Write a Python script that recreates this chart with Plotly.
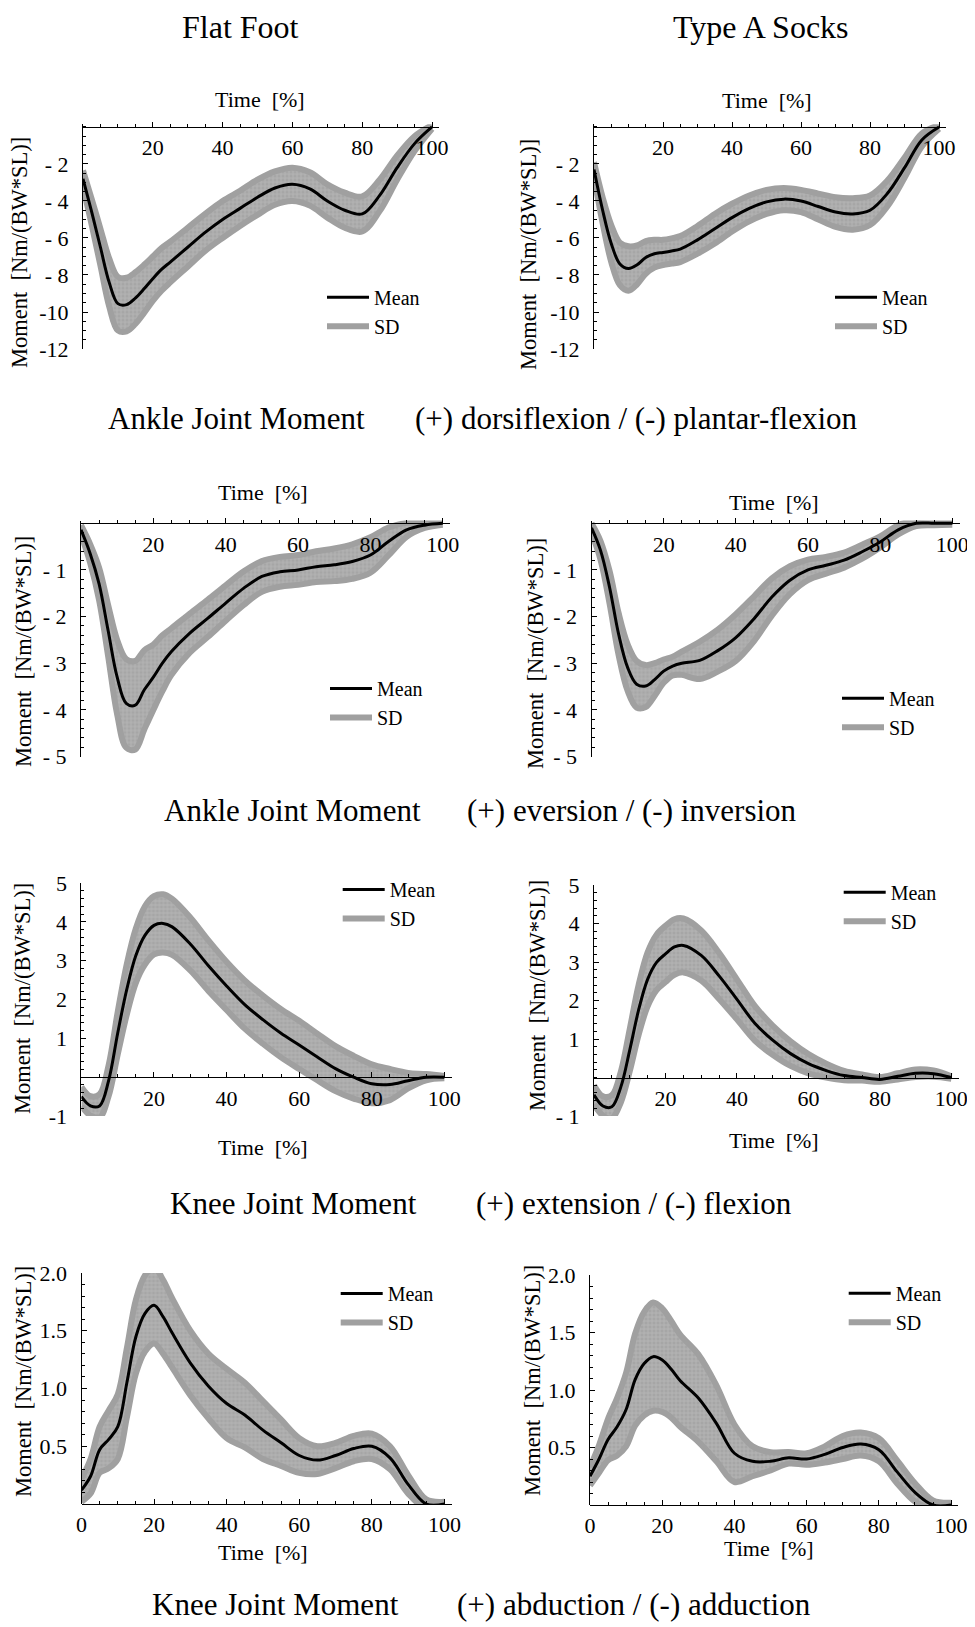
import plotly.graph_objects as go

PAGE_W, PAGE_H = 975, 1627
OFF = 8                      # browser body margin
W, H = PAGE_W - OFF, PAGE_H - OFF
FONT = "Liberation Serif"
SD_LINE = "#a0a0a0"
SD_FILL = "#a6a6a6"

# Time axis (% of stance)
T = [0, 2.5, 5, 7.5, 10, 12.5, 15, 17.5, 20, 22.5, 25, 30, 35, 40, 45, 50,
     55, 60, 65, 70, 75, 80, 85, 90, 95, 100]

# Ankle joint moment, dorsiflexion(+)/plantar-flexion(-)
ankle_sag_flat_mean = [-2.8, -4.6, -6.5, -8.4, -9.55, -9.6, -9.25, -8.75, -8.2, -7.7, -7.3, -6.5, -5.7,
                       -5.0, -4.4, -3.8, -3.3, -3.1, -3.35, -4.0, -4.5, -4.7, -3.7, -2.2, -0.9, 0.0]
ankle_sag_flat_sd = [0.45, 0.7, 1.0, 1.3, 1.45, 1.45, 1.4, 1.3, 1.2, 1.15, 1.1, 1.05, 1.0,
                     1.0, 0.95, 0.95, 0.9, 0.9, 0.9, 0.9, 0.95, 0.95, 0.85, 0.65, 0.4, 0.1]
ankle_sag_sock_mean = [-2.3, -4.5, -6.3, -7.4, -7.65, -7.45, -7.05, -6.85, -6.78, -6.7, -6.6, -6.1, -5.5,
                       -4.9, -4.4, -4.05, -3.9, -4.0, -4.3, -4.6, -4.7, -4.5, -3.6, -2.2, -0.7, 0.0]
ankle_sag_sock_sd = [0.4, 0.7, 1.0, 1.15, 1.2, 1.05, 0.88, 0.75, 0.68, 0.68, 0.7, 0.75, 0.8,
                     0.75, 0.7, 0.65, 0.6, 0.6, 0.7, 0.8, 0.85, 0.8, 0.7, 0.55, 0.35, 0.1]

# Ankle joint moment, eversion(+)/inversion(-)
ankle_fro_flat_mean = [-0.14, -0.64, -1.3, -2.3, -3.3, -3.86, -3.9, -3.57, -3.3, -3.0, -2.75, -2.36, -2.04,
                       -1.71, -1.39, -1.14, -1.04, -1.0, -0.93, -0.89, -0.82, -0.68, -0.39, -0.14, -0.04, 0.0]
ankle_fro_flat_sd = [0.1, 0.2, 0.35, 0.55, 0.8, 0.95, 0.95, 0.85, 0.7, 0.6, 0.5, 0.42, 0.4,
                     0.38, 0.36, 0.33, 0.32, 0.32, 0.33, 0.35, 0.37, 0.38, 0.3, 0.15, 0.06, 0.03]
ankle_fro_sock_mean = [-0.1, -0.58, -1.37, -2.37, -3.09, -3.45, -3.49, -3.35, -3.17, -3.06, -3.0, -2.94, -2.73,
                       -2.45, -2.05, -1.58, -1.22, -1.0, -0.9, -0.79, -0.61, -0.4, -0.14, 0.0, 0.0, 0.0]
ankle_fro_sock_sd = [0.1, 0.2, 0.35, 0.45, 0.5, 0.5, 0.45, 0.35, 0.25, 0.2, 0.25, 0.4, 0.45,
                     0.5, 0.48, 0.4, 0.3, 0.22, 0.18, 0.16, 0.15, 0.12, 0.1, 0.06, 0.04, 0.03]

# Knee joint moment, extension(+)/flexion(-)
knee_sag_flat_mean = [-0.5, -0.74, -0.74, -0.09, 1.13, 2.26, 3.13, 3.65, 3.91, 3.96, 3.87, 3.43, 2.87,
                      2.35, 1.87, 1.48, 1.13, 0.83, 0.52, 0.22, 0.0, -0.17, -0.19, -0.09, 0.0, 0.0]
knee_sag_flat_sd = [0.25, 0.25, 0.3, 0.4, 0.55, 0.65, 0.7, 0.75, 0.75, 0.75, 0.72, 0.68, 0.65,
                    0.62, 0.62, 0.62, 0.62, 0.62, 0.6, 0.58, 0.55, 0.5, 0.4, 0.2, 0.08, 0.03]
knee_sag_sock_mean = [-0.45, -0.74, -0.76, -0.25, 0.71, 1.76, 2.55, 2.99, 3.21, 3.39, 3.43, 3.17, 2.64,
                      2.03, 1.41, 0.97, 0.62, 0.36, 0.18, 0.05, 0.0, -0.05, 0.03, 0.11, 0.1, 0.0]
knee_sag_sock_sd = [0.25, 0.25, 0.3, 0.4, 0.55, 0.65, 0.7, 0.72, 0.73, 0.72, 0.7, 0.65, 0.6,
                    0.52, 0.45, 0.38, 0.32, 0.25, 0.18, 0.12, 0.08, 0.06, 0.08, 0.1, 0.08, 0.03]

# Knee joint moment, abduction(+)/adduction(-)
knee_fro_flat_mean = [0.12, 0.24, 0.47, 0.56, 0.67, 1.05, 1.45, 1.65, 1.72, 1.62, 1.48, 1.22, 1.02,
                      0.87, 0.77, 0.64, 0.53, 0.42, 0.38, 0.42, 0.48, 0.5, 0.4, 0.17, 0.0, 0.0]
knee_fro_flat_sd = [0.1, 0.15, 0.2, 0.25, 0.28, 0.3, 0.32, 0.33, 0.33, 0.32, 0.3, 0.28, 0.28,
                    0.3, 0.28, 0.25, 0.2, 0.15, 0.12, 0.11, 0.11, 0.11, 0.1, 0.08, 0.04, 0.02]
knee_fro_sock_mean = [0.25, 0.4, 0.57, 0.68, 0.83, 1.09, 1.23, 1.29, 1.26, 1.18, 1.08, 0.93, 0.71,
                      0.45, 0.38, 0.38, 0.41, 0.4, 0.44, 0.5, 0.53, 0.48, 0.29, 0.11, 0.0, 0.0]
knee_fro_sock_sd = [0.08, 0.12, 0.18, 0.25, 0.32, 0.4, 0.45, 0.47, 0.45, 0.42, 0.4, 0.38, 0.33,
                    0.25, 0.13, 0.08, 0.05, 0.05, 0.07, 0.1, 0.1, 0.1, 0.1, 0.08, 0.04, 0.02]

# Tick labels
x_ticks_top = [20, 40, 60, 80, 100]
x_ticks_all = [0, 20, 40, 60, 80, 100]
y_ticks_r1 = [-2, -4, -6, -8, -10, -12]
y_text_r1 = ["- 2", "- 4", "- 6", "- 8", "-10", "-12"]
y_ticks_r2 = [-1, -2, -3, -4, -5]
y_text_r2 = ["- 1", "- 2", "- 3", "- 4", "- 5"]
y_ticks_r3 = [-1, 1, 2, 3, 4, 5]
y_text_r3_left = ["-1", "1", "2", "3", "4", "5"]
y_text_r3_right = ["- 1", "1", "2", "3", "4", "5"]
y_ticks_r4 = [0.5, 1.0, 1.5, 2.0]
y_text_r4 = ["0.5", "1.0", "1.5", "2.0"]

column_titles = ["Flat Foot", "Type A Socks"]
row_captions = [
    ("Ankle Joint Moment", "(+) dorsiflexion / (-) plantar-flexion"),
    ("Ankle Joint Moment", "(+) eversion / (-) inversion"),
    ("Knee Joint Moment", "(+) extension / (-) flexion"),
    ("Knee Joint Moment", "(+) abduction / (-) adduction"),
]
x_title = "Time  [%]"
y_title = "Moment  [Nm/(BW*SL)]"

# Panel layout in page pixels (left, right, top, bottom for x in [0,102] and yrange)
panels = [
    dict(mean=ankle_sag_flat_mean, sd=ankle_sag_flat_sd, yr=[-12, 0.15], yt=y_ticks_r1, ytt=y_text_r1, ymd=0.5,
         xt=x_ticks_top, box=(83, 439, 124.2, 349), leg=(330, 296.7), tt=(260, 100), yti=(20, 253)),
    dict(mean=ankle_sag_sock_mean, sd=ankle_sag_sock_sd, yr=[-12, 0.15], yt=y_ticks_r1, ytt=y_text_r1, ymd=0.5,
         xt=x_ticks_top, box=(594, 946, 124.2, 349), leg=(838, 296.7), tt=(767, 101), yti=(529, 255)),
    dict(mean=ankle_fro_flat_mean, sd=ankle_fro_flat_sd, yr=[-5, 0.06], yt=y_ticks_r2, ytt=y_text_r2, ymd=0.2,
         xt=x_ticks_top, box=(81, 450, 520.5, 756.5), leg=(333, 688), tt=(263, 493), yti=(23, 652)),
    dict(mean=ankle_fro_sock_mean, sd=ankle_fro_sock_sd, yr=[-5, 0.06], yt=y_ticks_r2, ytt=y_text_r2, ymd=0.2,
         xt=x_ticks_top, box=(591.5, 959.5, 520.5, 756.5), leg=(845, 697.7), tt=(774, 502), yti=(535, 654)),
    dict(mean=knee_sag_flat_mean, sd=knee_sag_flat_sd, yr=[-1, 5], yt=y_ticks_r3, ytt=y_text_r3_left, ymd=0.2,
         xt=x_ticks_top, box=(81.4, 451.6, 883, 1116), leg=(345.7, 889), tt=(263, 1147), yti=(23, 999)),
    dict(mean=knee_sag_sock_mean, sd=knee_sag_sock_sd, yr=[-1, 5], yt=y_ticks_r3, ytt=y_text_r3_right, ymd=0.2,
         xt=x_ticks_top, box=(594, 958.5, 885, 1116), leg=(846.7, 891.7), tt=(774, 1140), yti=(537, 996)),
    dict(mean=knee_fro_flat_mean, sd=knee_fro_flat_sd, yr=[0, 2], yt=y_ticks_r4, ytt=y_text_r4, ymd=0.1,
         xt=x_ticks_all, box=(81.5, 451.7, 1273, 1504), leg=(343.7, 1293), tt=(263, 1552), yti=(23, 1382)),
    dict(mean=knee_fro_sock_mean, sd=knee_fro_sock_sd, yr=[0, 2], yt=y_ticks_r4, ytt=y_text_r4, ymd=0.1,
         xt=x_ticks_all, box=(590, 958.3, 1275, 1505), leg=(851.7, 1292.7), tt=(769, 1548), yti=(532, 1381)),
]


def px(x):
    return (x - OFF) / W


def py(y):
    return 1 - (y - OFF) / H


fig = go.Figure()
layout = dict(width=W, height=H, margin=dict(l=0, r=0, t=0, b=0, autoexpand=False),
              paper_bgcolor="white", plot_bgcolor="rgba(0,0,0,0)", showlegend=True)
annotations = []
tick_font = dict(family=FONT, size=22, color="black")

for i, p in enumerate(panels, start=1):
    sfx = "" if i == 1 else str(i)
    xa, ya, lg = "x" + sfx, "y" + sfx, "legend" + sfx
    lo = [m - s for m, s in zip(p["mean"], p["sd"])]
    up = [m + s for m, s in zip(p["mean"], p["sd"])]
    fig.add_trace(go.Scatter(x=T, y=lo, mode="lines", name="SD", legend=lg, legendrank=2,
                             line=dict(color=SD_LINE, width=6, shape="spline"),
                             xaxis=xa, yaxis=ya, hoverinfo="skip"))
    fig.add_trace(go.Scatter(x=T, y=up, mode="lines", fill="tonexty", fillcolor=SD_FILL,
                             fillpattern=dict(shape="+", fgcolor="#cfcfcf", bgcolor=SD_FILL, size=4, solidity=0.3),
                             line=dict(color=SD_LINE, width=6, shape="spline"), showlegend=False,
                             xaxis=xa, yaxis=ya, hoverinfo="skip"))
    fig.add_trace(go.Scatter(x=T, y=p["mean"], mode="lines", name="Mean", legend=lg, legendrank=1,
                             line=dict(color="black", width=3, shape="spline"),
                             xaxis=xa, yaxis=ya))

    L, R, Tp, B = p["box"]
    xd = [px(L), px(R)]
    yd = [py(B), py(Tp)]
    y0, y1 = p["yr"]
    pos = yd[0] + (0 - y0) / (y1 - y0) * (yd[1] - yd[0])
    layout["xaxis" + sfx] = dict(
        domain=xd, range=[0, 102], anchor="free", position=pos, side="bottom", automargin=False,
        showline=True, linecolor="black", linewidth=1, showgrid=False, zeroline=False,
        tickmode="array", tickvals=p["xt"], ticktext=[str(v) for v in p["xt"]],
        ticks="inside", ticklen=5, tickcolor="black", tickfont=tick_font, ticklabelstandoff=1,
        minor=dict(tickmode="linear", tick0=0, dtick=5, ticks="inside", ticklen=3,
                   tickcolor="black", showgrid=False))
    layout["yaxis" + sfx] = dict(
        domain=yd, range=p["yr"], anchor=xa, side="left", automargin=False,
        showline=True, linecolor="black", linewidth=1, showgrid=False, zeroline=False,
        tickmode="array", tickvals=p["yt"], ticktext=p["ytt"],
        ticks="inside", ticklen=5, tickcolor="black", tickfont=tick_font, ticklabelstandoff=9,
        minor=dict(tickmode="linear", tick0=0, dtick=p["ymd"], ticks="inside", ticklen=3,
                   tickcolor="black", showgrid=False))
    lx, ly = p["leg"]
    layout[lg] = dict(x=px(lx - 8), y=py(ly - 19), xanchor="left", yanchor="top",
                      bgcolor="rgba(0,0,0,0)", traceorder="normal", itemwidth=42,
                      font=dict(family=FONT, size=20, color="black"))
    tx, ty = p["tt"]
    annotations.append(dict(text=x_title, x=px(tx), y=py(ty), xref="paper", yref="paper",
                            showarrow=False, xanchor="center", yanchor="middle",
                            font=dict(family=FONT, size=22, color="black")))
    ax_, ay_ = p["yti"]
    annotations.append(dict(text=y_title, x=px(ax_), y=py(ay_), xref="paper", yref="paper",
                            showarrow=False, xanchor="center", yanchor="middle", textangle=-90,
                            font=dict(family=FONT, size=22.5, color="black")))

# Column titles
for txt, cx in zip(column_titles, [240, 761]):
    annotations.append(dict(text=txt, x=px(cx), y=py(27), xref="paper", yref="paper",
                            showarrow=False, xanchor="center", yanchor="middle",
                            font=dict(family=FONT, size=32, color="black")))

# Row captions
cap_pos = [(419, 236, 636), (810, 292, 632), (1203, 293, 634), (1604, 275, 634)]
for (left, right), (cy, lxp, rxp) in zip(row_captions, cap_pos):
    for txt, cx in [(left, lxp), (right, rxp)]:
        annotations.append(dict(text=txt, x=px(cx), y=py(cy), xref="paper", yref="paper",
                                showarrow=False, xanchor="center", yanchor="middle",
                                font=dict(family=FONT, size=31, color="black")))

layout["annotations"] = annotations
fig.update_layout(**layout)
fig.write_html("out.html")
